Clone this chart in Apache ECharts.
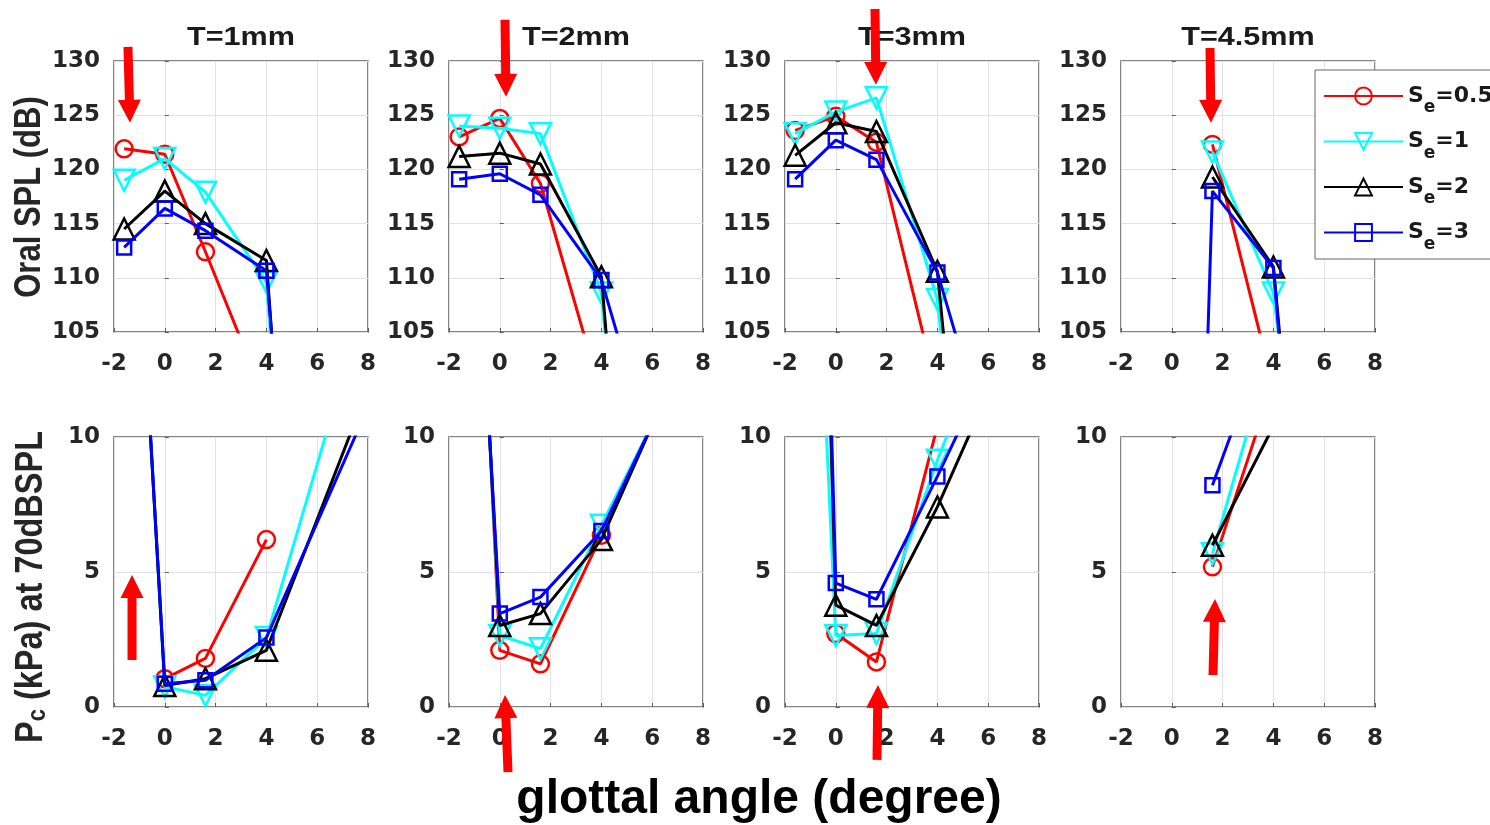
<!DOCTYPE html>
<html><head><meta charset="utf-8">
<script src="https://cdn.jsdelivr.net/npm/echarts@6/dist/echarts.min.js"></script>
<style>html,body{margin:0;padding:0;background:#fff}#c{width:1490px;height:825px}</style>
</head><body><div id="c"></div>
<script>
// ---------- data ----------
const angles = [-1.6, 0, 1.6, 4, 8];           // glottal angle (degree)
const seriesNames = ['Se=0.5', 'Se=1', 'Se=2', 'Se=3'];
const panelTitles = ['T=1mm', 'T=2mm', 'T=3mm', 'T=4.5mm'];
const xTicks = { min: -2, max: 8, step: 2 };
const splTicks = { min: 105, max: 130, step: 5 };
const pcTicks = { min: 0, max: 10, step: 5 };

// Oral SPL (dB)
const splT1_Se05 = [121.9, 121.4, 112.4, 98.5, null];
const splT1_Se1  = [119.0, 121.0, 117.9, 109.6, -10];
const splT1_Se2  = [114.5, 118.0, 115.0, 111.6, -20];
const splT1_Se3  = [112.8, 116.4, 114.35, 110.65, -1];

const splT2_Se05 = [123.0, 124.7, 118.7, 99.2, null];
const splT2_Se1  = [124.0, 123.8, 123.3, 108.6, 5.8];
const splT2_Se2  = [121.2, 121.5, 120.5, 110.1, -2];
const splT2_Se3  = [119.1, 119.6, 117.65, 109.8, 77.8];

const splT3_Se05 = [123.6, 124.9, 122.5, 99.4, null];
const splT3_Se1  = [123.3, 125.3, 126.6, 108.0, 16];
const splT3_Se2  = [121.3, 124.3, 123.5, 110.6, 14];
const splT3_Se3  = [119.1, 122.7, 120.9, 110.5, 78.5];

const splT45_Se05 = [null, null, 122.3, 99.9, null];
const splT45_Se1  = [null, null, 121.6, 108.6, 32];
const splT45_Se2  = [null, null, 119.3, 111.0, 10];
const splT45_Se3  = [null, 0, 118.0, 110.9, 0];

// Pc (kPa) at 70 dB SPL
const pcT1_Se05 = [null, 1.05, 1.8, 6.2, null];
const pcT1_Se1  = [27, 0.75, 0.43, 2.57, 15.4];
const pcT1_Se2  = [27, 0.8, 1.05, 2.1, 11.8];
const pcT1_Se3  = [27, 0.86, 0.99, 2.57, 11.1];

const pcT2_Se05 = [33.7, 2.1, 1.6, 6.36, 14.6];
const pcT2_Se1  = [32, 2.65, 2.16, 6.73, 14.2];
const pcT2_Se2  = [30.9, 3.02, 3.46, 6.2, 14.7];
const pcT2_Se3  = [29.6, 3.46, 4.07, 6.52, 14.4];

const pcT3_Se05 = [null, 2.72, 1.67, 10.4, null];
const pcT3_Se1  = [35, 2.65, 2.72, 9.14, 18.7];
const pcT3_Se2  = [55, 3.77, 3.02, 7.41, 15.9];
const pcT3_Se3  = [59, 4.59, 3.99, 8.54, 16.5];

const pcT45_Se05 = [null, null, 5.19, 12.06, null];
const pcT45_Se1  = [null, null, 5.68, 13.5, null];
const pcT45_Se2  = [null, null, 5.99, 10.4, null];
const pcT45_Se3  = [null, null, 8.21, 14.4, null];

// red arrow annotations: [panel, tailX, tailY, tipX, tipY] in data units
const arrowNotes = [
  [0, -1.45, 131.3, -1.37, 124.3],
  [1, 0.205, 133.8, 0.244, 126.7],
  [2, 1.543, 134.8, 1.58, 127.8],
  [3, 1.504, 131.2, 1.543, 124.3],
  [4, -1.29, 1.74, -1.29, 4.89],
  [5, 0.323, -2.41, 0.205, 0.44],
  [6, 1.622, -1.96, 1.661, 0.815],
  [7, 1.622, 1.185, 1.701, 4.0]
];

const splPanels = [
  [splT1_Se05, splT1_Se1, splT1_Se2, splT1_Se3],
  [splT2_Se05, splT2_Se1, splT2_Se2, splT2_Se3],
  [splT3_Se05, splT3_Se1, splT3_Se2, splT3_Se3],
  [splT45_Se05, splT45_Se1, splT45_Se2, splT45_Se3]
];
const pcPanels = [
  [pcT1_Se05, pcT1_Se1, pcT1_Se2, pcT1_Se3],
  [pcT2_Se05, pcT2_Se1, pcT2_Se2, pcT2_Se3],
  [pcT3_Se05, pcT3_Se1, pcT3_Se2, pcT3_Se3],
  [pcT45_Se05, pcT45_Se1, pcT45_Se2, pcT45_Se3]
];

// ---------- styles / layout ----------
const colors = ['#ff0000', '#00ffff', '#000000', '#0000ff'];
const symbols = ['circle', 'triangle', 'triangle', 'rect'];
const symRot = [0, 180, 0, 0];
const symSize = [17, 21, 21, 14];
const gridLefts = [114, 449, 785, 1121];
const gridW = 254;
const rowTops = [61, 437];
const rowH = [271, 270];
const tickFont = { fontFamily: 'DejaVu Sans', fontWeight: 'bold', fontSize: 23, color: '#262626' };
const boxColor = '#5e5e5e';

const grids = [], xAxes = [], yAxes = [], series = [];
for (let r = 0; r < 2; r++) {
  for (let c = 0; c < 4; c++) {
    const g = r * 4 + c;
    grids.push({ left: gridLefts[c], top: rowTops[r], width: gridW, height: rowH[r],
      show: true, borderColor: boxColor, borderWidth: 1.5, backgroundColor: '#fff' });
    xAxes.push({ type: 'value', gridIndex: g, min: xTicks.min, max: xTicks.max, interval: xTicks.step,
      axisLine: { show: false },
      axisTick: { show: true, inside: true, length: 4, lineStyle: { color: boxColor } },
      splitLine: { show: true, lineStyle: { color: '#e2e2e2', width: 1 } },
      axisLabel: Object.assign({ margin: 21 }, tickFont) });
    const yt = r === 0 ? splTicks : pcTicks;
    yAxes.push({ type: 'value', gridIndex: g, min: yt.min, max: yt.max, interval: yt.step,
      axisLine: { show: false },
      axisTick: { show: true, inside: true, length: 4, lineStyle: { color: boxColor } },
      splitLine: { show: true, lineStyle: { color: '#e2e2e2', width: 1 } },
      axisLabel: Object.assign({ margin: 14, padding: [4, 0, 0, 0] }, tickFont) });
    const panel = r === 0 ? splPanels[c] : pcPanels[c];
    panel.forEach((vals, k) => {
      const data = [];
      angles.forEach((x, i) => { if (vals[i] !== null) data.push([x, vals[i]]); });
      series.push({
        type: 'line', name: seriesNames[k], xAxisIndex: g, yAxisIndex: g, data,
        symbol: symbols[k], symbolSize: symSize[k], symbolRotate: symRot[k],
        showSymbol: true, clip: true, silent: true, z: 2 + k,
        lineStyle: { color: colors[k], width: 3 },
        itemStyle: { color: 'rgba(0,0,0,0)', borderColor: colors[k], borderWidth: 2.5 },
        emphasis: { disabled: true }
      });
    });
  }
}

const option = {
  animation: false,
  backgroundColor: '#fff',
  grid: grids, xAxis: xAxes, yAxis: yAxes, series,
  legend: {
    data: seriesNames, orient: 'vertical', left: 1315, top: 70,
    padding: [15, 24, 6, 8], itemGap: 14, itemWidth: 79, itemHeight: 21,
    backgroundColor: '#fff', borderColor: '#666', borderWidth: 1, borderRadius: 0,
    selectedMode: false,
    formatter: name => '{a|S}{b|e}{a|=' + name.split('=')[1] + '}',
    textStyle: {
      color: '#1a1a1a',
      rich: {
        a: { fontFamily: 'DejaVu Sans', fontWeight: 'bold', fontSize: 22, lineHeight: 41, color: '#1a1a1a' },
        b: { fontFamily: 'DejaVu Sans', fontWeight: 'bold', fontSize: 17, verticalAlign: 'bottom', color: '#1a1a1a' }
      }
    }
  }
};

const chart = echarts.init(document.getElementById('c'), null, { renderer: 'canvas' });
chart.setOption(option);

function arrowPoly(t, p) {
  const dx = p[0] - t[0], dy = p[1] - t[1];
  const len = Math.hypot(dx, dy), ux = dx / len, uy = dy / len, nx = -uy, ny = ux;
  const L = 23, hw = 11.5, sw = 4.5;
  const bx = p[0] - ux * L, by = p[1] - uy * L;
  return [[t[0] + nx * sw, t[1] + ny * sw], [bx + nx * sw, by + ny * sw], [bx + nx * hw, by + ny * hw],
          [p[0], p[1]], [bx - nx * hw, by - ny * hw], [bx - nx * sw, by - ny * sw], [t[0] - nx * sw, t[1] - ny * sw]];
}

const graphics = [];
panelTitles.forEach((t, c) => {
  graphics.push({ type: 'text', x: gridLefts[c] + gridW / 2, y: 37.5, scaleX: 1.2, z: 50,
    style: { text: t, fontFamily: 'Liberation Sans', fontWeight: 'bold', fontSize: 25.5,
      fill: '#1a1a1a', textAlign: 'center', textVerticalAlign: 'middle' } });
});
graphics.push({ type: 'text', x: 30, y: 197, rotation: Math.PI / 2, scaleY: 1.2, z: 50,
  style: { text: 'Oral SPL (dB)', fontFamily: 'Liberation Sans', fontWeight: 'bold', fontSize: 31,
    fill: '#262626', textAlign: 'center', textVerticalAlign: 'middle' } });
graphics.push({ type: 'text', x: 31, y: 587, rotation: Math.PI / 2, scaleY: 1.2, z: 50,
  style: { text: '{m|P}{s|c}{m| (kPa) at 70dBSPL}', fill: '#262626', textAlign: 'center', textVerticalAlign: 'middle',
    rich: {
      m: { fontFamily: 'Liberation Sans', fontWeight: 'bold', fontSize: 32.5, lineHeight: 34, fill: '#262626' },
      s: { fontFamily: 'Liberation Sans', fontWeight: 'bold', fontSize: 22, lineHeight: 25, verticalAlign: 'bottom', fill: '#262626' }
    } } });
graphics.push({ type: 'text', x: 759, y: 800, z: 50,
  style: { text: 'glottal angle (degree)', fontFamily: 'Liberation Sans', fontWeight: 'bold', fontSize: 48,
    fill: '#000', textAlign: 'center', textVerticalAlign: 'middle' } });
arrowNotes.forEach(a => {
  const t = chart.convertToPixel({ gridIndex: a[0] }, [a[1], a[2]]);
  const p = chart.convertToPixel({ gridIndex: a[0] }, [a[3], a[4]]);
  graphics.push({ type: 'polygon', z: 60, shape: { points: arrowPoly(t, p) }, style: { fill: '#ff0000' } });
});
chart.setOption({ graphic: graphics });
</script>
</body></html>
